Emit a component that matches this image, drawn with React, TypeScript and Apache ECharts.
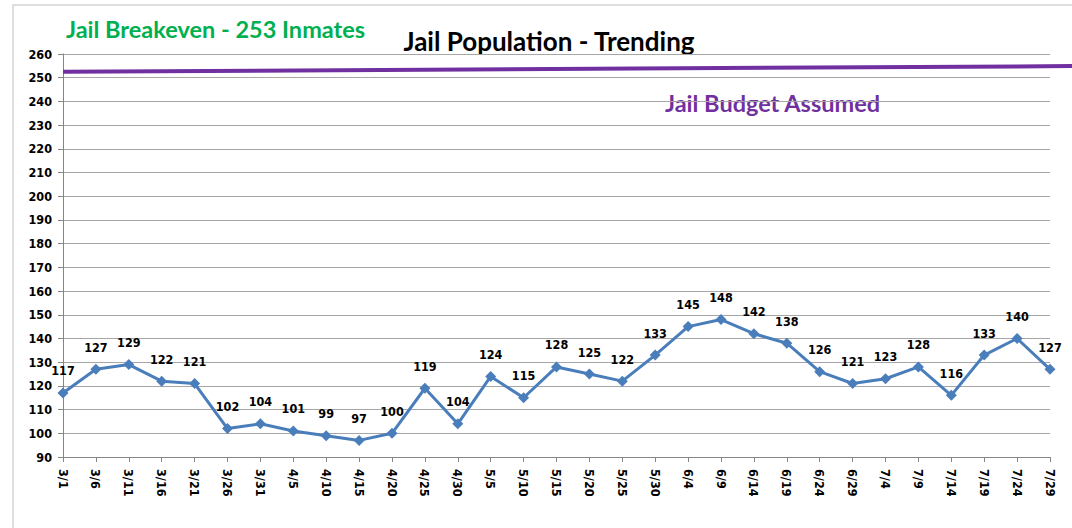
import React, { useEffect, useRef } from "react";
import * as echarts from "echarts";

const categories = [
  "3/1", "3/6", "3/11", "3/16", "3/21", "3/26", "3/31", "4/5", "4/10", "4/15", "4/20",
  "4/25", "4/30", "5/5", "5/10", "5/15", "5/20", "5/25", "5/30", "6/4", "6/9", "6/14",
  "6/19", "6/24", "6/29", "7/4", "7/9", "7/14", "7/19", "7/24", "7/29",
];
const population = [
  117, 127, 129, 122, 121, 102, 104, 101, 99, 97, 100,
  119, 104, 124, 115, 128, 125, 122, 133, 145, 148, 142,
  138, 126, 121, 123, 128, 116, 133, 140, 127,
];
// Budget line read at its start and end (x as fraction of its span)
const budgetLine = [
  [0, 252.5],
  [1, 254.9],
];
const yMin = 90;
const yMax = 260;
const yInterval = 10;

const titleText = "Jail Population - Trending";
const breakevenText = "Jail Breakeven - 253 Inmates";
const budgetText = "Jail Budget Assumed";

const tickFont = "'DejaVu Sans Condensed', 'DejaVu Sans', sans-serif";

export default function App() {
  const ref = useRef<HTMLDivElement>(null);

  useEffect(() => {
    document.body.style.margin = "0";
    if (!ref.current) return;
    const chart = echarts.init(ref.current, null, { renderer: "svg" });
    chart.setOption({
      animation: false,
      backgroundColor: "#ffffff",
      grid: [
        { left: 63, right: 22, top: 54, bottom: 71, containLabel: false },
        { left: 63, right: 0, top: 54, bottom: 71, containLabel: false },
      ],
      xAxis: [
        {
          type: "category",
          gridIndex: 0,
          data: categories,
          boundaryGap: false,
          axisLine: { show: true, lineStyle: { color: "#868686", width: 1 } },
          axisTick: { show: true, length: 5, inside: false, alignWithLabel: true, lineStyle: { color: "#868686" } },
          axisLabel: {
            rotate: -90,
            margin: 12,
            interval: 0,
            color: "#000",
            fontFamily: tickFont,
            fontWeight: "bold",
            fontSize: 12.5,
          },
          splitLine: { show: false },
        },
        { type: "value", gridIndex: 1, min: 0, max: 1, show: false },
      ],
      yAxis: [
        {
          type: "value",
          gridIndex: 0,
          min: yMin,
          max: yMax,
          interval: yInterval,
          axisLine: { show: true, lineStyle: { color: "#868686", width: 1 } },
          axisTick: { show: true, length: 5, inside: false, lineStyle: { color: "#868686" } },
          axisLabel: {
            margin: 11,
            color: "#000",
            fontFamily: tickFont,
            fontWeight: "bold",
            fontSize: 12.5,
          },
          splitLine: { show: true, lineStyle: { color: "#a6a6a6", width: 1 } },
        },
        { type: "value", gridIndex: 1, min: yMin, max: yMax, show: false },
      ],
      series: [
        {
          name: "Jail Budget Assumed",
          type: "line",
          xAxisIndex: 1,
          yAxisIndex: 1,
          data: budgetLine,
          symbol: "none",
          lineStyle: { color: "#7030A0", width: 4 },
          silent: true,
          z: 3,
        },
        {
          name: "Jail Population",
          type: "line",
          xAxisIndex: 0,
          yAxisIndex: 0,
          data: population,
          symbol: "diamond",
          symbolSize: 11,
          itemStyle: { color: "#4A7EBB" },
          lineStyle: { color: "#4A7EBB", width: 3 },
          label: {
            show: true,
            position: "top",
            distance: 10,
            color: "#000",
            fontFamily: tickFont,
            fontWeight: "bold",
            fontSize: 12.5,
          },
          z: 4,
        },
      ],
      graphic: [
        {
          type: "rect",
          shape: { x: 13, y: 5, width: 1200, height: 700 },
          style: { fill: "none", stroke: "#d4d4d4", lineWidth: 1.5 },
          silent: true,
          z: 0,
        },
        {
          type: "text",
          x: 549,
          y: 41,
          style: {
            text: titleText,
            fill: "#000",
            font: "bold 26px Lato",
            align: "center",
            verticalAlign: "middle",
          },
        },
        {
          type: "text",
          x: 66,
          y: 29,
          style: {
            text: breakevenText,
            fill: "#00B050",
            font: "bold 23.5px Lato",
            align: "left",
            verticalAlign: "middle",
          },
        },
        {
          type: "text",
          x: 665,
          y: 103,
          style: {
            text: budgetText,
            fill: "#7030A0",
            font: "bold 23.5px Lato",
            align: "left",
            verticalAlign: "middle",
          },
        },
      ],
    });
    return () => chart.dispose();
  }, []);

  return (
    <div
      ref={ref}
      style={{ position: "absolute", left: 0, top: 0, width: 1072, height: 528 }}
    />
  );
}
